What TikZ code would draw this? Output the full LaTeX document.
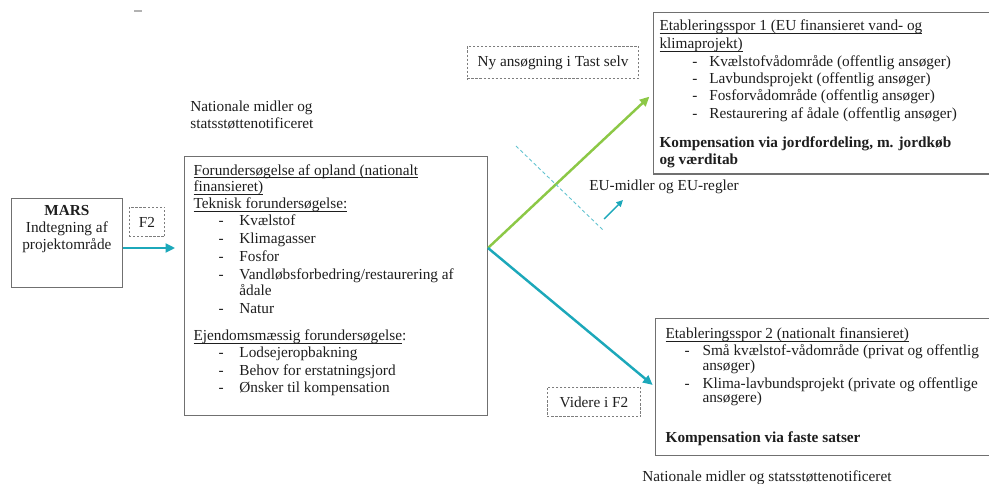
\documentclass[tikz,border=0pt]{standalone}
\usepackage{fontspec}
\setmainfont{Liberation Serif}
\usetikzlibrary{arrows.meta}

\definecolor{boxline}{RGB}{112,112,112}
\definecolor{dashgray}{RGB}{125,125,125}
\definecolor{ink}{RGB}{30,30,30}
\definecolor{tealarrow}{RGB}{28,168,186}
\definecolor{leaf}{RGB}{140,200,70}

\newcommand{\txt}{\fontsize{8.7pt}{9.2pt}\selectfont}
\newcommand{\itm}[2]{\hspace*{#1}\makebox[#2][l]{-}}
\newcommand{\ulin}[1]{\underline{\smash{#1}}}

\begin{document}
\begin{tikzpicture}[x=0.02cm, y=-0.02cm, font=\txt, text=ink,
  panel/.style={draw=boxline, line width=0.7pt, anchor=north west, inner ysep=0pt},
  tag/.style={draw=dashgray, dash pattern=on 1.3pt off 1pt, line width=0.6pt, inner sep=0pt},
  flow/.style={line width=1.4pt, ->},
  >={Triangle[length=5.5pt,width=5pt]}]
  \useasboundingbox (0,0) rectangle (989,483);
  \draw[gray!60, line width=0.8pt] (134,11) -- (142,11);

  % left part
  \node[panel, inner xsep=0pt] (mars) at (11,198) {\parbox[c][50.5pt][t]{62.9pt}{\centering
    \rule{0pt}{9.6pt}\textbf{MARS}\\[0.4pt]
    Indtegning af\\[0.4pt]
    projektområde}};
  \node[tag, minimum width=20.4pt, minimum height=17pt] (f2) at (147,222) {F2};
  \node[anchor=base west, align=left, inner sep=0pt] (natTop) at (190,128) {Nationale midler og\\statsstøttenotificeret};

  \node[panel, inner xsep=5.1pt] (main) at (184,156) {\parbox[c][147.4pt][t]{162.1pt}{\raggedright
    \rule{0pt}{10.6pt}\ulin{Forundersøgelse af opland (nationalt}\\[0.3pt]
    \ulin{finansieret)}\\[0.3pt]
    \ulin{Teknisk forundersøgelse:}\\[0.3pt]
    \itm{14.2pt}{11.9pt}Kvælstof\\[1.4pt]
    \itm{14.2pt}{11.9pt}Klimagasser\\[1pt]
    \itm{14.2pt}{11.9pt}Fosfor\\[1pt]
    \itm{14.2pt}{11.9pt}Vandløbsforbedring/restaurering af\\
    \hspace*{26.1pt}ådale\\[1pt]
    \itm{14.2pt}{11.9pt}Natur\\[6pt]
    \ulin{Ejendomsmæssig forundersøgelse}:\\[0.6pt]
    \itm{14.2pt}{11.9pt}Lodsejeropbakning\\[0.8pt]
    \itm{14.2pt}{11.9pt}Behov for erstatningsjord\\[0.6pt]
    \itm{14.2pt}{11.9pt}Ønsker til kompensation}};

  % right part
  \node[panel, inner xsep=3.4pt] (spor1) at (653,12) {\parbox[c][91.8pt][t]{189.9pt}{\raggedright
    \rule{0pt}{10.2pt}\ulin{Etableringsspor 1 (EU finansieret vand- og}\\[1pt]
    \ulin{klimaprojekt)}\\[0.8pt]
    \itm{18.7pt}{9.6pt}Kvælstofvådområde (offentlig ansøger)\\[0.8pt]
    \itm{18.7pt}{9.6pt}Lavbundsprojekt (offentlig ansøger)\\[0.6pt]
    \itm{18.7pt}{9.6pt}Fosforvådområde (offentlig ansøger)\\[0.6pt]
    \itm{18.7pt}{9.6pt}Restaurering af ådale (offentlig ansøger)\\[7.4pt]
    \textbf{Kompensation via jordfordeling, m. jordkøb}\\[0.6pt]
    \textbf{og værditab}}};
  \node[panel, inner xsep=5.7pt] (spor2) at (655,318) {\parbox[c][77.7pt][t]{184.2pt}{\raggedright
    \rule{0pt}{11.4pt}\ulin{Etableringsspor 2 (nationalt finansieret)}\\[0.4pt]
    \itm{10.8pt}{10.2pt}Små kvælstof-vådområde (privat og offentlig\\[-0.7pt]
    \hspace*{21pt}ansøger)\\[1pt]
    \itm{10.8pt}{10.2pt}Klima-lavbundsprojekt (private og offentlige\\[-1.2pt]
    \hspace*{21pt}ansøgere)\\[13.5pt]
    \textbf{Kompensation via faste satser}}};

  \node[tag, minimum width=97.5pt, minimum height=18.7pt] (nyAns) at (553,62.5) {Ny ansøgning i Tast selv};
  \node[tag, minimum width=53.3pt, minimum height=17pt] (videre) at (594,402) {Videre i F2};
  \node[anchor=base west, inner sep=0pt] (euLabel) at (589,190) {EU-midler og EU-regler};
  \node[anchor=base west, inner sep=0pt] (natBottom) at (642,481) {Nationale midler og statsstøttenotificeret};

  % arrows
  \coordinate (fork) at (488,248);
  \coordinate (cutA) at (516,146);
  \coordinate (cutB) at (603,230);
  \coordinate (euFrom) at (604,219);
  \coordinate (euTo) at (623,200);
  \draw[flow, draw=tealarrow, shorten >=5pt] (mars.east |- fork) -- (main.west |- fork);
  \draw[flow, draw=leaf, shorten >=2.8pt] (fork) -- (spor1.west);
  \draw[flow, draw=tealarrow, shorten >=1.7pt] (fork) -- (spor2.west);
  \draw[tealarrow!70, line width=0.5pt, dash pattern=on 2pt off 1.5pt] (cutA) -- (cutB);
  \draw[tealarrow, line width=0.8pt, ->, >={Triangle[length=3.8pt,width=3.6pt]}] (euFrom) -- (euTo);
\end{tikzpicture}
\end{document}
